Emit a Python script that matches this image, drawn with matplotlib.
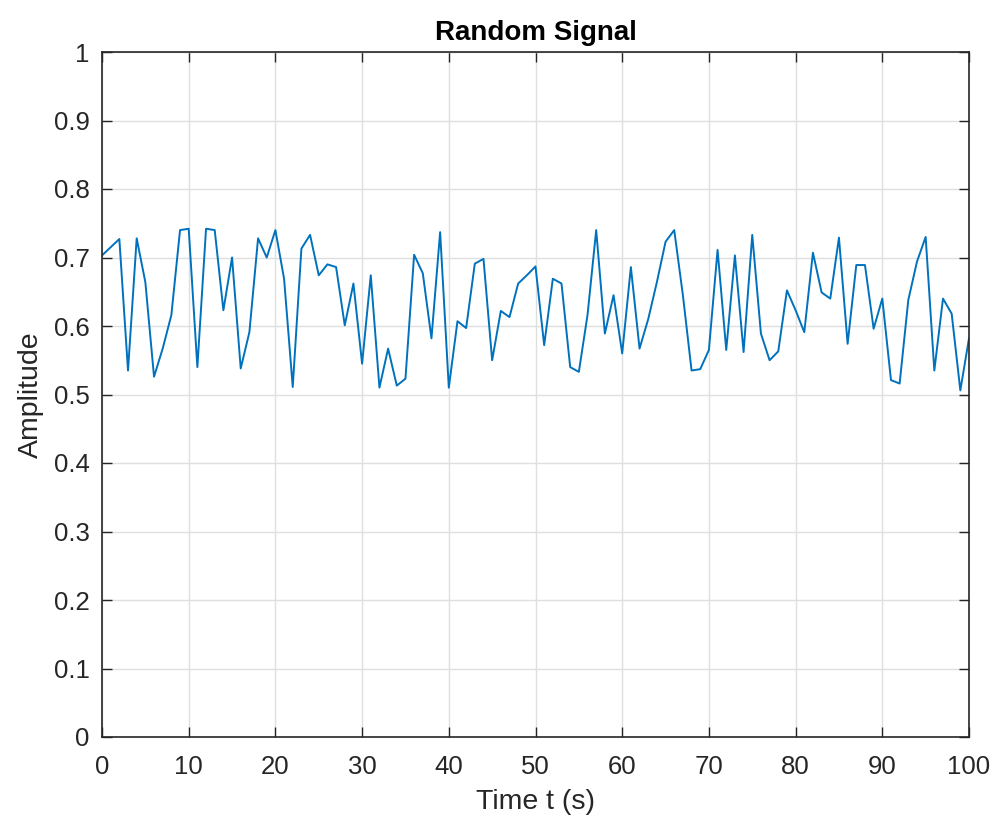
import matplotlib
matplotlib.use("Agg")
import matplotlib.pyplot as plt
import numpy as np

t = list(range(0, 101))
amplitude = [
    0.703, 0.715, 0.727, 0.535, 0.728, 0.664, 0.526, 0.567, 0.616, 0.740,
    0.742, 0.540, 0.742, 0.740, 0.623, 0.700, 0.538, 0.591, 0.728, 0.700,
    0.740, 0.669, 0.511, 0.713, 0.733, 0.674, 0.690, 0.686, 0.601, 0.662,
    0.545, 0.674, 0.510, 0.567, 0.513, 0.523, 0.704, 0.677, 0.582, 0.737,
    0.510, 0.607, 0.597, 0.691, 0.698, 0.550, 0.622, 0.613, 0.662, 0.674,
    0.687, 0.572, 0.669, 0.662, 0.540, 0.533, 0.616, 0.740, 0.589, 0.645,
    0.560, 0.686, 0.567, 0.610, 0.664, 0.723, 0.740, 0.645, 0.535, 0.537,
    0.565, 0.711, 0.565, 0.703, 0.562, 0.733, 0.589, 0.550, 0.563, 0.652,
    0.623, 0.591, 0.707, 0.649, 0.640, 0.729, 0.574, 0.689, 0.689, 0.596,
    0.640, 0.521, 0.516, 0.638, 0.694, 0.730, 0.535, 0.640, 0.618, 0.506,
    0.582,
]
xticks = list(range(0, 101, 10))
yticks = [round(0.1 * i, 1) for i in range(11)]
ytick_labels = ["0", "0.1", "0.2", "0.3", "0.4", "0.5", "0.6", "0.7", "0.8", "0.9", "1"]

plt.rcParams['font.family'] = ['Liberation Sans', 'DejaVu Sans']
axcol = '#262626'

fig = plt.figure(figsize=(9.96, 8.18), dpi=100)
ax = fig.add_axes([102 / 996, 1 - 737 / 818, (969 - 102) / 996, (737 - 52) / 818])
ax.plot(t, amplitude, color='#0072BD', linewidth=1.4)
ax.set_xlim(0, 100)
ax.set_ylim(0, 1)
ax.set_xticks(xticks)
ax.set_yticks(yticks)
ax.set_yticklabels(ytick_labels)
ax.grid(True, color='#dfdfdf', linewidth=1.0)
ax.set_axisbelow(True)
ax.tick_params(direction='in', length=7, width=1.0, colors=axcol, labelsize=18.5,
               top=True, right=True)
ax.tick_params(axis='x', pad=13)
ax.tick_params(axis='y', pad=9)
for s in ax.spines.values():
    s.set_color(axcol)
    s.set_linewidth(1.2)
ax.set_title('Random Signal', fontsize=20, fontweight='bold', color='black', pad=9)
ax.set_xlabel('Time t (s)', fontsize=20.5, color=axcol, labelpad=7)
ax.set_ylabel('Amplitude', fontsize=20.5, color=axcol, labelpad=7)
fig.savefig('out.png', dpi=100)
